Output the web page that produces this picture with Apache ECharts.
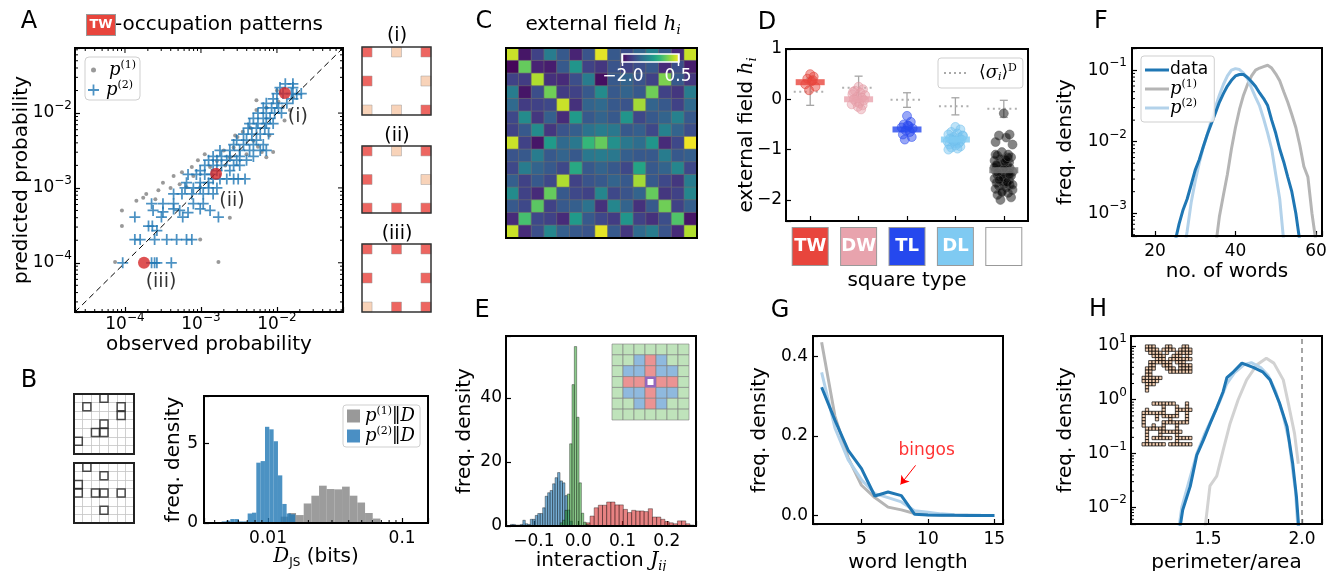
<!DOCTYPE html>
<html lang="en">
<head>
<meta charset="UTF-8" />
<title>Scrabble board statistics</title>
<script src="https://cdn.jsdelivr.net/npm/echarts@6/dist/echarts.min.js"></script>
<style>html,body{margin:0;padding:0;background:#fff}</style>
</head>
<body>
<div id="main" style="width:1343px;height:571px"></div>
<script>
// ---------- A: TW occupation patterns, [log10 observed, log10 predicted] ----------
const aP1Log = [[-4.13,-3.99],[-4.04,-3.3],[-4.04,-3.51],[-3.85,-3.17],[-3.76,-3.13],[-3.72,-3.08],[-3.56,-3.03],
  [-3.5,-2.93],[-3.36,-2.84],[-3.25,-2.79],[-3.12,-2.72],[-3.04,-2.63],[-2.77,-3.99],[-3.01,-3.69],[-2.62,-3.4],
  [-2.57,-2.46],[-2.52,-2.32],[-2.4,-2.55],[-2.27,-1.96],[-2.2,-2.52],[-2.14,-2.59],[-2.05,-2.52],[-2.31,-2.37],
  [-2.55,-2.3],[-2.62,-2.59],[-2.79,-2.64],[-2.88,-2.72],[-2.27,-1.83],[-2.14,-1.93],[-1.92,-1.92],[-1.83,-1.96],
  [-1.79,-1.79],[-1.98,-1.85],[-3.01,-2.99],[-3.19,-2.99],[-3.28,-2.95],[-3.1,-2.84],[-2.7,-2.5],[-2.45,-2.25],
  [-2.35,-2.2],[-2.0,-1.7],[-1.9,-2.1],[-2.1,-2.3],[-2.95,-2.55],[-3.4,-3.0],[-3.6,-3.15],[-2.68,-2.7],[-2.25,-2.45]];
const aP2Log = [[-4.03,-4.0],[-3.65,-4.0],[-3.61,-4.0],[-3.58,-4.0],[-3.39,-4.0],
  [-3.87,-3.69],[-3.8,-3.69],[-3.61,-3.69],[-3.45,-3.69],[-3.32,-3.69],[-3.19,-3.69],[-3.12,-3.69],
  [-3.69,-3.51],[-3.64,-3.51],[-3.58,-3.57],
  [-3.87,-3.39],[-3.52,-3.39],[-3.24,-3.39],[-2.77,-3.39],
  [-3.63,-3.3],[-3.5,-3.32],[-3.36,-3.28],[-3.28,-3.3],[-3.17,-3.33],[-3.01,-3.28],[-2.88,-3.3],
  [-3.65,-3.21],[-3.5,-3.21],[-3.36,-3.21],[-3.1,-3.21],[-2.97,-3.21],
  [-3.36,-3.08],[-3.25,-3.08],[-3.12,-3.08],[-2.97,-3.08],[-2.84,-3.08],
  [-3.21,-3.0],[-3.1,-3.0],[-3.01,-3.0],[-2.9,-3.0],[-2.79,-3.0],
  [-3.19,-2.93],[-3.01,-2.93],[-2.9,-2.93],
  [-2.84,-2.88],[-2.75,-2.88],[-2.66,-2.88],[-2.57,-2.88],[-2.51,-2.88],[-2.42,-2.88],
  [-3.17,-2.82],[-3.06,-2.82],[-2.95,-2.82],[-2.86,-2.82],
  [-3.01,-2.77],[-2.79,-2.77],[-2.62,-2.77],
  [-2.95,-2.7],[-2.84,-2.7],[-2.73,-2.7],[-2.57,-2.7],[-2.49,-2.7],
  [-2.9,-2.63],[-2.79,-2.63],[-2.66,-2.63],[-2.53,-2.63],[-2.4,-2.63],
  [-2.84,-2.58],[-2.73,-2.58],[-2.62,-2.58],[-2.49,-2.58],[-2.31,-2.58],
  [-2.75,-2.5],[-2.62,-2.5],[-2.49,-2.5],[-2.36,-2.5],[-2.22,-2.5],[-2.14,-2.5],
  [-2.57,-2.42],[-2.44,-2.42],[-2.31,-2.42],[-2.18,-2.42],
  [-2.53,-2.36],[-2.4,-2.36],[-2.27,-2.36],
  [-2.44,-2.28],[-2.33,-2.28],[-2.22,-2.28],[-2.11,-2.28],
  [-2.38,-2.2],[-2.27,-2.2],[-2.16,-2.2],
  [-2.36,-2.14],[-2.25,-2.14],[-2.14,-2.14],[-2.05,-2.14],
  [-2.31,-2.07],[-2.18,-2.07],[-2.09,-2.07],
  [-2.25,-2.0],[-2.14,-2.0],[-2.03,-2.0],[-1.94,-2.0],
  [-2.18,-1.93],[-2.07,-1.93],[-1.98,-1.93],
  [-2.14,-1.87],[-2.0,-1.87],[-1.87,-1.87],
  [-2.05,-1.81],[-1.79,-1.81],
  [-2.0,-1.74],[-1.92,-1.74],[-1.81,-1.74],
  [-1.96,-1.66],[-1.79,-1.66],
  [-1.89,-1.61],[-1.79,-1.61],
  [-1.74,-1.75],[-1.68,-1.74]];
const aPicked = [[0.0127, 0.0186], [0.00158, 0.00155], [1.78e-4, 1.0e-4]];
const aPickedNames = ['(i)', '(ii)', '(iii)'];
// TW squares of the board (col,row) and whether each is occupied in patterns (i)-(iii)
const twSpots = [[0,0],[7,0],[14,0],[0,7],[14,7],[0,14],[7,14],[14,14]];
const twPatterns = [[1,0,1,1,0,0,0,1],[1,0,1,1,0,1,1,1],[1,1,1,1,1,0,1,1]];

// ---------- B ----------
const bBoardTop = [[3,0],[1,1],[5,1],[5,2],[3,3],[2,4],[3,4],[0,5]];
const bBoardBottom = [[1,0],[3,1],[0,2],[0,3],[2,3],[3,3],[5,3],[3,5]];
const bBlueStartLog = -2.3458, bBlueStepLog = 0.0323;
const bBlueHeights = [0.1,0.15,0.25,0.25,0.1,0.1,0.6,0.65,3.8,3.9,6.06,5.9,5.15,3.0,1.2,0.6,0.55];
const bGrayStartLog = -1.9055, bGrayStepLog = 0.0572;
const bGrayHeights = [0.4,0.63,0.5,1.23,1.72,2.35,2.14,2.12,2.29,1.72,1.29,0.63,0.28];

// ---------- C: external field per square ----------
const hField = [
  [0.3,-1.85,-1.5,-0.95,-1.3,-1.75,-1.35,0.4,-1.3,-1.4,-1.2,-0.9,-1.3,-1.7,0.3],
  [-1.95,-0.1,-1.75,-1.8,-1.3,-0.7,-1.5,-1.6,-1.35,-1.5,-1.4,-1.3,-1.7,-1.4,-1.8],
  [-1.5,-1.55,0.2,-1.65,-1.7,-1.4,-0.95,-1.9,-1.3,-1.2,-1.35,-1.5,0.0,-1.3,-1.6],
  [-0.95,-1.85,-1.4,-0.05,-1.55,-1.5,-1.3,-0.8,-1.3,-1.2,-1.3,-0.05,-1.5,-1.6,-0.95],
  [-1.15,-1.55,-1.5,-1.45,0.3,-1.65,-1.2,-1.15,-1.3,-1.35,0.15,-1.2,-1.3,-1.5,-1.15],
  [-1.45,-0.8,-1.6,-1.25,-1.7,-0.65,-1.3,-1.2,-1.3,-0.7,-1.45,-1.3,-1.2,-0.9,-1.3],
  [-1.5,-1.3,-0.8,-1.6,-1.35,-1.25,-1.05,-0.95,-1.0,-1.3,-1.25,-1.45,-0.9,-1.2,-1.4],
  [0.3,-1.5,-1.85,-0.65,-1.15,-1.0,-0.35,-0.1,-0.75,-1.0,-1.1,-0.7,-1.7,-1.45,0.45],
  [-1.35,-1.3,-0.95,-1.3,-1.2,-1.3,-1.0,-0.95,-1.0,-1.25,-1.3,-1.3,-0.95,-1.3,-1.25],
  [-1.45,-0.95,-1.2,-1.3,-1.45,-0.5,-1.3,-1.2,-1.3,-1.45,-0.55,-1.3,-1.2,-0.85,-1.45],
  [-1.25,-1.5,-1.3,-1.45,0.2,-1.5,-1.35,-1.3,-1.2,-1.3,0.15,-1.3,-1.45,-1.6,-0.95],
  [-0.8,-1.5,-1.7,-0.1,-1.3,-1.45,-1.5,-0.85,-1.45,-1.35,-1.2,-0.1,-1.6,-1.5,-0.85],
  [-1.3,-1.45,-0.15,-1.5,-1.3,-1.25,-1.05,-1.65,-0.85,-1.2,-1.65,-1.3,-0.05,-1.5,-1.25],
  [-1.7,-0.25,-1.45,-1.5,-1.7,-0.65,-1.3,-1.45,-1.55,-0.7,-1.5,-1.65,-1.4,-0.2,-1.85],
  [0.3,-1.7,-1.4,-0.85,-1.25,-1.3,-1.35,0.4,-1.3,-1.6,-1.15,-0.95,-1.35,-1.7,0.2]];

// ---------- D: fields by square type ----------
const dTypes = ['TW', 'DW', 'TL', 'DL', ' '];
const dPoints = [
  [0.5,0.45,0.41,0.36,0.3,0.25,0.18,0.38],
  [0.25,0.2,0.17,0.13,0.1,0.08,0.05,0.03,0.0,-0.02,-0.05,-0.08,-0.1,-0.12,-0.15,-0.2,0.15],
  [-0.33,-0.45,-0.5,-0.53,-0.56,-0.58,-0.62,-0.65,-0.7,-0.75,-0.8,-0.52],
  [-0.55,-0.6,-0.65,-0.68,-0.7,-0.72,-0.75,-0.77,-0.78,-0.8,-0.81,-0.82,-0.84,-0.85,-0.87,-0.88,-0.9,-0.92,-0.94,-0.96,-0.98,-1.0,-0.73,-0.83],
  [-0.28,-0.7,-0.72,-0.76,-0.85,-0.9,-1.05,-1.1,-1.12,-1.15,-1.18,-1.2,-1.22,-1.25,-1.27,-1.3,-1.32,-1.34,-1.36,-1.38,
   -1.4,-1.42,-1.44,-1.46,-1.48,-1.5,-1.52,-1.54,-1.56,-1.58,-1.6,-1.62,-1.64,-1.66,-1.68,-1.7,-1.72,-1.75,-1.78,-1.8,
   -1.83,-1.86,-1.9,-1.95,-2.0,-1.25,-1.35,-1.45,-1.55,-1.65,-1.3,-1.4,-1.5,-1.6,-1.2,-1.1,-1.7,-1.85,-1.15,-1.45]];
const dMeans = [0.34, 0.0, -0.6, -0.8, -1.41];
const dSigma = [0.15, 0.23, -0.01, -0.14, -0.19];
const dSigmaLo = [-0.12, 0.0, -0.16, -0.31, -0.36];
const dSigmaHi = [0.42, 0.46, 0.13, 0.03, -0.02];

// ---------- E: couplings histograms (bin start, bin width, heights) ----------
const eBlueStart = -0.153, eBlueStep = 0.0056;
const eBlueHeights = [0.5,0.5,0.3,0.3,0.5,1.8,0.7,0.5,2.1,2.1,3.3,3.9,3.9,5.7,9.3,10.4,11.1,13.2,15.1,16.7,14.1,13.5,9.5,5.0,1.5];
const eGreenStart = -0.0405, eGreenStep = 0.0053;
const eGreenHeights = [1.0,1.8,4.9,10,25.7,44.2,56.1,34,13.5,4,1.2,0.5];
const eRedStart = 0.0173, eRedStep = 0.0094;
const eRedHeights = [1.0,3.1,5.7,6.5,6.5,7.5,7.5,6.6,6.6,5.2,4.2,4.9,4.7,4.7,4.5,5.4,2.8,2.8,2.1,1.4,1.0,0.7,1.6,1.6,0.7,0.3];
const eNeighbourhood = ['GGGGGGG','GGBRBGG','GBBRBBG','GRRCRRG','GBBRBBG','GGBRBGG','GGGGGGG'];

// ---------- F: number of words ----------
const fWordsData = [25,26,27,28,29,30,31,32,33,34,35,36,37,38,39,40,41,42,43,44,45,46,47,48,49,50,51,52,53,54,55,56];
const fData = [4.0e-4,7.1e-4,1.12e-3,1.58e-3,2.5e-3,4.0e-3,5.6e-3,8.5e-3,0.0126,0.0178,0.025,0.0355,0.047,0.060,0.072,0.083,
  0.087,0.087,0.079,0.069,0.059,0.048,0.040,0.032,0.020,0.0132,0.0079,0.0052,0.0032,0.002,0.001,4e-4];
const fWordsP2 = [27,28,29,30,31,32,33,34,35,36,37,38,39,40,41,42,43,44,45,46,47,48,49,50,51,52];
const fP2 = [2.5e-4,5.6e-4,1.41e-3,2.8e-3,5.0e-3,8.3e-3,0.0126,0.02,0.030,0.0447,0.063,0.083,0.1,0.105,0.102,0.091,
  0.076,0.056,0.0417,0.0316,0.0209,0.0132,7.9e-3,3.5e-3,1.58e-3,4.0e-4];
const fWordsP1 = [35,36,37,38,39,40,41,42,43,44,45,46,47,48,49,50,51,52,53,54,55,56,57,58,59,60];
const fP1 = [3.2e-4,8.9e-4,1.78e-3,3.5e-3,7.9e-3,0.0158,0.0282,0.0447,0.063,0.083,0.1,0.107,0.112,0.117,0.107,0.089,
  0.071,0.05,0.0355,0.024,0.0158,8.9e-3,4.5e-3,3.2e-3,1.0e-3,4.0e-4];

// ---------- G: word length ----------
const gLength = [2,3,4,5,6,7,8,9,10,11,12,13,14,15];
const gP1 = [0.436,0.25,0.145,0.076,0.045,0.021,0.014,0.005,0.002,0.001,0.0005,0.0003,0.0001,0];
const gP2 = [0.36,0.22,0.14,0.09,0.055,0.045,0.034,0.012,0.008,0.004,0.002,0.001,0.0005,0.0002];
const gData = [0.3225,0.24,0.164,0.118,0.049,0.059,0.05,0.003,0.001,0.0005,0.0003,0.0002,0.0001,0.0001];

// ---------- H: perimeter / area ----------
const hData = [[1.345,0.00316],[1.365,0.00891],[1.405,0.0245],[1.44,0.0933],[1.475,0.178],[1.51,0.355],[1.546,0.708],
  [1.58,1.41],[1.6,2.57],[1.635,3.31],[1.68,4.79],[1.74,3.98],[1.79,3.31],[1.83,2.34],[1.88,0.871],[1.92,0.316],
  [1.95,0.0661],[1.97,0.0158],[1.985,0.00316]];
const hP2 = [[1.34,0.00316],[1.36,0.01],[1.4,0.0316],[1.44,0.1],[1.48,0.224],[1.52,0.447],[1.56,0.891],[1.6,2.0],
  [1.64,3.16],[1.69,4.47],[1.73,4.9],[1.78,3.98],[1.82,2.82],[1.86,1.41],[1.9,0.501],[1.93,0.178],[1.95,0.0501],
  [1.965,0.02],[1.98,0.00316]];
const hP1 = [[1.48,0.00316],[1.51,0.0251],[1.546,0.038],[1.58,0.115],[1.617,0.363],[1.66,1.0],[1.705,2.34],[1.76,4.47],
  [1.81,5.89],[1.85,4.79],[1.9,2.34],[1.93,0.759],[1.96,0.234],[1.98,0.0646]];
const hClusterTop = ['.###...##...##.','.####.####.####','..####.#..#####','...####..###.#.','....###.#######',
  '..#######.###..','..##..###..####','.###...###.####','.##.....#######','.##............','######.........',
  '#####..........','.###...........','.#.............','.#.............'];
const hClusterBottom = ['...#######...#.','......#...#..#.','.#....#...#####','#######...#..#.','#...#.#####..#.',
  '#...#...#....#.','#.....########.','#..#..#...#....','.######...#....','.#...#######...','.#...#....#....',
  '.#.######.#####','.#........#....','#######.#######','...............'];

// ================= chart building =================
const FONT = 'DejaVu Sans';
const SERIF = 'DejaVu Serif';
const VIRIDIS = ['#440154','#482878','#3e4989','#31688e','#26828e','#1f9e89','#35b779','#6ece58','#b5de2b','#fde725'];
const BLUE = '#1f77b4', LIGHTBLUE = '#b3d2ea', GRAY = '#b5b5b5';

function merge(a, b) {
  const out = Object.assign({}, a);
  for (const k in b) {
    const v = b[k];
    if (v && typeof v === 'object' && !Array.isArray(v) && a && a[k] && typeof a[k] === 'object' && !Array.isArray(a[k])) {
      out[k] = merge(a[k], v);
    } else {
      out[k] = v;
    }
  }
  return out;
}

const NAME_RICH = {
  it: { fontFamily: SERIF, fontStyle: 'italic', fontSize: 20, lineHeight: 24, color: '#000' },
  sub: { fontFamily: SERIF, fontStyle: 'italic', fontSize: 13, lineHeight: 14, verticalAlign: 'bottom', color: '#000' },
  subr: { fontFamily: FONT, fontSize: 12, lineHeight: 14, verticalAlign: 'bottom', color: '#000' }
};
const SUP_RICH = { sup: { fontFamily: FONT, fontSize: 12, lineHeight: 12, verticalAlign: 'top', color: '#000' } };

const BASE_AXIS = {
  nameLocation: 'middle',
  nameMoveOverlap: false,
  nameTextStyle: { color: '#000', fontSize: 20, fontFamily: FONT, lineHeight: 24, rich: NAME_RICH },
  axisLine: { show: false, onZero: false },
  axisTick: { show: true, inside: true, length: 5, lineStyle: { color: '#000', width: 1.2 } },
  axisLabel: { color: '#000', fontSize: 17, fontFamily: FONT, margin: 6 },
  splitLine: { show: false },
  minorTick: { show: false }
};

const option = {
  animation: false,
  backgroundColor: '#fff',
  textStyle: { fontFamily: FONT },
  grid: [], xAxis: [], yAxis: [], series: [], legend: [], visualMap: [],
  graphic: { elements: [] }
};

function addGrid(r, frame) {
  option.grid.push({
    left: r[0], top: r[1], width: r[2], height: r[3], z: 10,
    outerBoundsMode: 'none',
    show: !!frame, borderColor: frame ? frame[0] : 'transparent', borderWidth: frame ? frame[1] : 0,
    backgroundColor: 'transparent'
  });
  return option.grid.length - 1;
}
function addX(cfg) { option.xAxis.push(cfg); return option.xAxis.length - 1; }
function addY(cfg) { option.yAxis.push(cfg); return option.yAxis.length - 1; }
function axis(gi, extra) { return merge(merge(BASE_AXIS, { gridIndex: gi }), extra); }
function hidden(gi, min, max, inverse) { return { gridIndex: gi, type: 'value', show: false, min: min, max: max, inverse: !!inverse }; }

const logFmt = function (v) {
  const e = Math.log10(v), r = Math.round(e);
  if (Math.abs(e - r) > 1e-6) return '';
  return '10{sup|' + (r < 0 ? '\u2212' : '') + Math.abs(r) + '}';
};
const decFmt = function (v) {
  const e = Math.log10(v), r = Math.round(e);
  if (Math.abs(e - r) > 1e-6) return '';
  return String(+Math.pow(10, r).toPrecision(1));
};
function stepFmt(step, dec) {
  return function (v) {
    const q = v / step;
    if (Math.abs(q - Math.round(q)) > 1e-6) return '';
    return (Math.round(q) * step).toFixed(dec).replace('-', '\u2212');
  };
}
// minor ticks (2..9 x 10^k) on a log axis, drawn at an edge of the plot through the axis scale
function logMinor(lo, hi) {
  const out = [];
  for (let k = Math.floor(Math.log10(lo)); k <= Math.ceil(Math.log10(hi)); k++) {
    for (let m = 2; m <= 9; m++) { const v = m * Math.pow(10, k); if (v > lo && v < hi) out.push(v); }
  }
  return out;
}
// ticks along one plot edge; len > 0 points into the plot from bottom/left, len < 0 from top/right
function edgeTicks(xi, yi, dir, values, other, len) {
  option.series.push({ type: 'custom', xAxisIndex: xi, yAxisIndex: yi, silent: true, z: 11,
    encode: { x: 0, y: 1 },
    data: values.map(function (v) { return dir === 'x' ? [v, other] : [other, v]; }),
    renderItem: function (params, api) {
      const p = api.coord([api.value(0), api.value(1)]);
      const shape = dir === 'x' ? { x1: p[0], y1: p[1], x2: p[0], y2: p[1] - len } : { x1: p[0], y1: p[1], x2: p[0] + len, y2: p[1] };
      return { type: 'line', shape: shape, style: { stroke: '#000', lineWidth: 1 } };
    } });
}

const FRAME = ['#000', 2];

// ---------- A ----------
const PLUS = 'path://M0,4.2H10V5.8H0Z M4.2,0H5.8V10H4.2Z';
const A_MIN = 2.2e-5, A_MAX = 0.074;
const A_MAJOR = [1e-4, 1e-3, 1e-2];
const gA = addGrid([75, 48, 268, 264], FRAME);
const xA = addX(axis(gA, { type: 'log', min: A_MIN, max: A_MAX, name: 'observed probability', nameGap: 21,
  axisLabel: { formatter: logFmt, margin: 0, lineHeight: 26, rich: SUP_RICH } }));
const yA = addY(axis(gA, { type: 'log', min: A_MIN, max: A_MAX, name: 'predicted probability', nameGap: 41,
  axisLabel: { formatter: logFmt, margin: 3, lineHeight: 26, rich: SUP_RICH } }));
const toVal = function (p) { return [Math.pow(10, p[0]), Math.pow(10, p[1])]; };
option.series.push({ name: 'A_p1', type: 'scatter', xAxisIndex: xA, yAxisIndex: yA, symbol: 'circle', symbolSize: 4,
  itemStyle: { color: '#7f7f7f' }, data: aP1Log.map(toVal) });
option.series.push({ name: 'A_p2', type: 'scatter', xAxisIndex: xA, yAxisIndex: yA, symbol: PLUS, symbolSize: 11,
  itemStyle: { color: BLUE }, data: aP2Log.map(toVal) });
option.series.push({ name: 'A_diag', type: 'line', xAxisIndex: xA, yAxisIndex: yA, symbol: 'none',
  lineStyle: { color: '#000', width: 1, type: [6, 4] }, data: [[A_MIN, A_MIN], [A_MAX, A_MAX]] });
const aLabelOffsets = [[13, 24], [16, 27], [17, 19]];
option.series.push({ name: 'A_sel', type: 'scatter', xAxisIndex: xA, yAxisIndex: yA, symbolSize: 12, z: 5,
  itemStyle: { color: '#d62728' },
  label: { show: true, position: 'inside', color: '#000', fontSize: 19, fontFamily: FONT,
    formatter: function (p) { return aPickedNames[p.dataIndex]; } },
  data: aPicked.map(function (v, i) { return { value: v, label: { offset: aLabelOffsets[i] } }; }) });
edgeTicks(xA, yA, 'x', logMinor(A_MIN, A_MAX), A_MIN, 3);
edgeTicks(xA, yA, 'y', logMinor(A_MIN, A_MAX), A_MIN, 3);
edgeTicks(xA, yA, 'x', logMinor(A_MIN, A_MAX), A_MAX, -3);
edgeTicks(xA, yA, 'y', logMinor(A_MIN, A_MAX), A_MAX, -3);
edgeTicks(xA, yA, 'x', A_MAJOR, A_MAX, -5);
edgeTicks(xA, yA, 'y', A_MAJOR, A_MAX, -5);

// board insets (i)-(iii)
const boardRects = [[362, 47, 69, 68], [362, 146, 69, 67], [362, 244, 69, 68]];
boardRects.forEach(function (r, k) {
  const g = addGrid(r, ['#333', 1.5]);
  const xi = addX(hidden(g, -1.2, 15.2));
  const yi = addY(hidden(g, -1.2, 15.2, true));
  option.series.push({ type: 'scatter', xAxisIndex: xi, yAxisIndex: yi, symbol: 'rect', symbolSize: 10,
    data: twSpots.map(function (s, j) {
      return { value: s, itemStyle: { color: twPatterns[k][j] ? '#e8403a' : '#f6c8a7', borderColor: '#999', borderWidth: 0.6 } };
    }) });
});

// ---------- B ----------
[[74, 394, 60, 60, bBoardTop], [74, 463, 60, 60, bBoardBottom]].forEach(function (b) {
  const g = addGrid(b.slice(0, 4), ['#222', 2]);
  const grid7 = { show: true, min: 0, max: 7, interval: 1, axisLabel: { show: false }, axisTick: { show: false },
    axisLine: { show: false }, splitLine: { show: true, lineStyle: { color: '#c4c4c4', width: 0.8 } } };
  const xi = addX(merge({ gridIndex: g, type: 'value' }, grid7));
  const yi = addY(merge({ gridIndex: g, type: 'value', inverse: true }, grid7));
  option.series.push({ type: 'scatter', xAxisIndex: xi, yAxisIndex: yi, symbol: 'rect', symbolSize: 8,
    itemStyle: { color: 'rgba(0,0,0,0)', borderColor: '#222', borderWidth: 1.5 },
    data: b[4].map(function (c) { return [c[0] + 0.5, c[1] + 0.5]; }) });
});
const B_MIN = 0.00333, B_MAX = 0.156;
const gB = addGrid([204, 396, 224, 127], FRAME);
const xB = addX(axis(gB, { type: 'log', min: B_MIN, max: B_MAX, name: '{it|D}{subr|JS} (bits)', nameGap: 22,
  axisLabel: { formatter: decFmt, margin: 7 } }));
const yB = addY(axis(gB, { type: 'value', min: 0, max: 8, interval: 5, name: 'freq. density', nameGap: 18,
  axisLabel: { margin: 6, formatter: stepFmt(5, 0) } }));
function histRender(fill, stroke) {
  return function (params, api) {
    const p0 = api.coord([api.value(0), api.value(2)]);
    const p1 = api.coord([api.value(1), 0]);
    return { type: 'rect', shape: { x: p0[0], y: p0[1], width: p1[0] - p0[0], height: p1[1] - p0[1] },
      style: { fill: fill, stroke: stroke, lineWidth: stroke ? 0.8 : 0 } };
  };
}
function logBins(startLog, stepLog, heights) {
  return heights.map(function (h, i) {
    return [Math.pow(10, startLog + i * stepLog), Math.pow(10, startLog + (i + 1) * stepLog), h];
  });
}
function linBins(start, step, heights) {
  return heights.map(function (h, i) { return [start + i * step, start + (i + 1) * step, h]; });
}
option.series.push({ name: 'B_p1', type: 'custom', xAxisIndex: xB, yAxisIndex: yB, clip: true,
  itemStyle: { color: '#999999' }, encode: { x: [0, 1], y: 2 },
  renderItem: histRender('rgba(128,128,128,0.78)', null), data: logBins(bGrayStartLog, bGrayStepLog, bGrayHeights) });
option.series.push({ name: 'B_p2', type: 'custom', xAxisIndex: xB, yAxisIndex: yB, clip: true,
  itemStyle: { color: '#4a8fc4' }, encode: { x: [0, 1], y: 2 },
  renderItem: histRender('rgba(31,119,180,0.8)', null), data: logBins(bBlueStartLog, bBlueStepLog, bBlueHeights) });
edgeTicks(xB, yB, 'x', logMinor(B_MIN, B_MAX), 0, 3);

// ---------- C ----------
const gC = addGrid([506, 48, 191, 190], FRAME);
const cats15 = hField.map(function (_, i) { return String(i); });
const xC = addX({ gridIndex: gC, type: 'category', data: cats15, show: false });
const yC = addY({ gridIndex: gC, type: 'category', data: cats15, show: false, inverse: true });
const heatData = [];
hField.forEach(function (row, r) { row.forEach(function (v, c) { heatData.push([c, r, v]); }); });
option.series.push({ name: 'C_h', type: 'heatmap', xAxisIndex: xC, yAxisIndex: yC, data: heatData,
  itemStyle: { borderColor: '#6b6b6b', borderWidth: 0.6 } });
option.visualMap.push({ type: 'continuous', show: false, seriesIndex: option.series.length - 1,
  min: -2, max: 0.5, inRange: { color: VIRIDIS } });

// ---------- D ----------
const gD = addGrid([786, 49, 242, 172], FRAME);
const badgeColors = ['#e8453c', '#e8a3ad', '#2548ee', '#7fcaf2', '#ffffff'];
const badgeRich = {};
badgeColors.forEach(function (c, i) {
  badgeRich['b' + i] = { backgroundColor: c, color: '#fff', fontWeight: 'bold', fontSize: 18, fontFamily: FONT,
    width: 35, height: 37, lineHeight: 37, align: 'center', borderColor: '#999', borderWidth: 1 };
});
addX(axis(gD, { type: 'category', data: dTypes, position: 'bottom', name: 'square type', nameGap: 48,
  axisTick: { alignWithLabel: true },
  axisLabel: { interval: 0, margin: 7, rich: badgeRich, formatter: function (v, i) { return '{b' + i + '|' + v + '}'; } } }));
const xD = addX({ gridIndex: gD, type: 'value', show: false, min: -0.5, max: 4.5, position: 'top' });
const yD = addY(axis(gD, { type: 'value', min: -2.42, max: 1.0, splitNumber: 4,
  name: 'external field {it|h}{sub|i}', nameGap: 27, axisLabel: { margin: 4, formatter: stepFmt(1, 0) } }));
option.series.push({ name: 'D_sigma', type: 'custom', xAxisIndex: xD, yAxisIndex: yD, itemStyle: { color: '#aaaaaa' },
  encode: { x: 0, y: [1, 2, 3] },
  data: dTypes.map(function (_, i) { return [i, dSigma[i], dSigmaLo[i], dSigmaHi[i]]; }),
  renderItem: function (params, api) {
    const c = api.value(0), s = api.value(1), lo = api.value(2), hi = api.value(3);
    const a = api.coord([c - 0.34, s]), b = api.coord([c + 0.34, s]);
    const t = api.coord([c, hi]), u = api.coord([c, lo]);
    const es = { stroke: '#a5a5a5', lineWidth: 1.3 };
    return { type: 'group', children: [
      { type: 'line', shape: { x1: t[0], y1: t[1], x2: u[0], y2: u[1] }, style: es },
      { type: 'line', shape: { x1: t[0] - 4, y1: t[1], x2: t[0] + 4, y2: t[1] }, style: es },
      { type: 'line', shape: { x1: u[0] - 4, y1: u[1], x2: u[0] + 4, y2: u[1] }, style: es },
      { type: 'line', shape: { x1: a[0], y1: a[1], x2: b[0], y2: b[1] }, style: { stroke: '#b0b0b0', lineWidth: 2, lineDash: [2, 3.5] } }
    ] };
  } });
const dPointFill = ['rgba(232,69,60,0.6)', 'rgba(232,160,172,0.6)', 'rgba(40,72,238,0.6)', 'rgba(120,196,240,0.6)', 'rgba(0,0,0,0.6)'];
const dPointEdge = ['rgba(220,60,50,0.8)', 'rgba(225,150,160,0.8)', 'rgba(40,72,238,0.8)', 'rgba(110,190,235,0.8)', 'rgba(90,90,90,0.8)'];
const jitterPattern = [0, 0.6, -0.5, 0.25, -0.85, 0.9, -0.2, 0.45, -0.65, 0.75, -0.35, 0.1, -0.95, 0.55, -0.1, 0.35, -0.75];
const jitterWidth = [0.12, 0.15, 0.13, 0.17, 0.2];
dPoints.forEach(function (ys, k) {
  option.series.push({ type: 'scatter', xAxisIndex: xD, yAxisIndex: yD, symbolSize: 9,
    itemStyle: { color: dPointFill[k], borderColor: dPointEdge[k], borderWidth: 0.8 },
    data: ys.map(function (y, i) { return [k + jitterWidth[k] * jitterPattern[i % jitterPattern.length], y]; }) });
});
const meanColors = ['#e8453c', '#e8a3ad', '#2548ee', '#7fcaf2', '#777777'];
option.series.push({ type: 'scatter', xAxisIndex: xD, yAxisIndex: yD, symbol: 'rect', symbolSize: [29, 6], z: 4,
  data: dMeans.map(function (m, i) { return { value: [i, m], itemStyle: { color: meanColors[i] } }; }) });

// ---------- E ----------
const gE = addGrid([506, 336, 190, 190], FRAME);
const xE = addX(axis(gE, { type: 'value', min: -0.163, max: 0.266, splitNumber: 4,
  name: 'interaction {it|J}{sub|ij}', nameGap: 23, axisLabel: { margin: 7, formatter: stepFmt(0.1, 1) } }));
const yE = addY(axis(gE, { type: 'value', min: 0, max: 59.4, interval: 20, name: 'freq. density', nameGap: 29,
  axisLabel: { margin: 4, formatter: stepFmt(20, 0) } }));
option.series.push({ type: 'custom', xAxisIndex: xE, yAxisIndex: yE, clip: true, encode: { x: [0, 1], y: 2 },
  renderItem: histRender('rgba(31,119,180,0.62)', 'rgba(0,0,0,0.45)'), data: linBins(eBlueStart, eBlueStep, eBlueHeights) });
option.series.push({ type: 'custom', xAxisIndex: xE, yAxisIndex: yE, clip: true, encode: { x: [0, 1], y: 2 },
  renderItem: histRender('rgba(214,39,40,0.58)', 'rgba(0,0,0,0.45)'), data: linBins(eRedStart, eRedStep, eRedHeights) });
option.series.push({ type: 'custom', xAxisIndex: xE, yAxisIndex: yE, clip: true, encode: { x: [0, 1], y: 2 },
  renderItem: histRender('rgba(44,160,44,0.55)', 'rgba(0,0,0,0.45)'), data: linBins(eGreenStart, eGreenStep, eGreenHeights) });
// neighbourhood inset
const gEin = addGrid([612, 344, 77, 76], null);
const xEin = addX(hidden(gEin, 0, 7));
const yEin = addY(hidden(gEin, 0, 7, true));
const kindIndex = { G: 0, B: 1, R: 2, C: 3 };
const kindFill = ['#bfe3bb', '#8fb9de', '#eb9393', '#ffffff'];
const einData = [];
eNeighbourhood.forEach(function (row, r) { row.split('').forEach(function (ch, c) { einData.push([c, r, kindIndex[ch]]); }); });
option.series.push({ type: 'custom', xAxisIndex: xEin, yAxisIndex: yEin, z: 6, encode: { x: 0, y: 1 }, data: einData,
  renderItem: function (params, api) {
    const c = api.value(0), r = api.value(1), k = api.value(2);
    const p0 = api.coord([c, r]), p1 = api.coord([c + 1, r + 1]);
    const center = k === 3;
    return { type: 'rect', z2: center ? 10 : 1,
      shape: { x: Math.min(p0[0], p1[0]) + (center ? 1.2 : 0), y: Math.min(p0[1], p1[1]) + (center ? 1.2 : 0),
        width: Math.abs(p1[0] - p0[0]) - (center ? 2.4 : 0), height: Math.abs(p1[1] - p0[1]) - (center ? 2.4 : 0) },
      style: { fill: kindFill[k], stroke: center ? '#9467bd' : '#7d7d7d', lineWidth: center ? 2.6 : 0.6 } };
  } });

// ---------- F ----------
const F_MIN = 4.8e-4, F_MAX = 0.204;
const gF = addGrid([1132, 48, 190, 188], FRAME);
const xF = addX(axis(gF, { type: 'value', min: 14.3, max: 61.5, splitNumber: 2, name: 'no. of words', nameGap: 24,
  axisLabel: { margin: 7, formatter: stepFmt(20, 0) } }));
const yF = addY(axis(gF, { type: 'log', min: F_MIN, max: F_MAX, name: 'freq. density', nameGap: 54,
  axisLabel: { formatter: logFmt, margin: 5, lineHeight: 26, rich: SUP_RICH } }));
function lineSeries(name, xi, yi, data, color, width) {
  return { name: name, type: 'line', xAxisIndex: xi, yAxisIndex: yi, symbol: 'none', showSymbol: false, clip: true,
    itemStyle: { color: color }, lineStyle: { color: color, width: width || 3 }, data: data };
}
function zip(xs, ys) { return xs.map(function (x, i) { return [x, ys[i]]; }); }
option.series.push(lineSeries('F_p1', xF, yF, zip(fWordsP1, fP1), GRAY));
option.series.push(lineSeries('F_p2', xF, yF, zip(fWordsP2, fP2), LIGHTBLUE));
option.series.push(lineSeries('F_data', xF, yF, zip(fWordsData, fData), BLUE));
edgeTicks(xF, yF, 'y', logMinor(F_MIN, F_MAX), 14.3, 3);

// ---------- G ----------
const gG = addGrid([813, 336, 190, 188], FRAME);
const xG = addX(axis(gG, { type: 'value', min: 1.35, max: 15.65, splitNumber: 3, name: 'word length', nameGap: 27,
  axisLabel: { margin: 7, formatter: stepFmt(5, 0) } }));
const yG = addY(axis(gG, { type: 'value', min: -0.0215, max: 0.4515, splitNumber: 3, name: 'freq. density', nameGap: 41,
  axisLabel: { margin: 5, formatter: stepFmt(0.2, 1) } }));
option.series.push(lineSeries('G_p1', xG, yG, zip(gLength, gP1), GRAY));
option.series.push(lineSeries('G_p2', xG, yG, zip(gLength, gP2), LIGHTBLUE));
const gDataSeries = lineSeries('G_data', xG, yG, zip(gLength, gData), BLUE);
gDataSeries.markLine = { silent: true, symbol: ['none', 'arrow'], symbolSize: 8, label: { show: false },
  lineStyle: { color: '#ff0000', width: 1, type: 'solid' },
  data: [[{ coord: [9.07, 0.126] }, { coord: [7.94, 0.078] }]] };
option.series.push(gDataSeries);
option.series.push({ type: 'scatter', xAxisIndex: xG, yAxisIndex: yG, symbolSize: 1, itemStyle: { color: 'rgba(0,0,0,0)' },
  label: { show: true, position: 'inside', formatter: 'bingos', color: '#ff0000', fontSize: 17, fontFamily: FONT },
  data: [[9.9, 0.164]] });

// ---------- H ----------
const H_MIN = 0.0049, H_MAX = 15.3;
const gH = addGrid([1131, 336, 191, 188], FRAME);
const xH = addX(axis(gH, { type: 'value', min: 1.09, max: 2.106, splitNumber: 2, name: 'perimeter/area', nameGap: 27,
  axisLabel: { margin: 7, formatter: stepFmt(0.5, 1) } }));
const yH = addY(axis(gH, { type: 'log', min: H_MIN, max: H_MAX, name: 'freq. density', nameGap: 53,
  axisLabel: { formatter: logFmt, margin: 4, lineHeight: 26, rich: SUP_RICH } }));
const hP1Series = lineSeries('H_p1', xH, yH, hP1, '#d2d2d2');
hP1Series.markLine = { silent: true, symbol: 'none', label: { show: false },
  lineStyle: { color: '#888', width: 1.5, type: [5, 4] }, data: [{ xAxis: 2.0 }] };
option.series.push(hP1Series);
option.series.push(lineSeries('H_p2', xH, yH, hP2, LIGHTBLUE));
option.series.push(lineSeries('H_data', xH, yH, hData, BLUE));
edgeTicks(xH, yH, 'y', logMinor(H_MIN, H_MAX), 1.09, 3);
[[1142, 345, 50, 47, hClusterTop], [1142, 402, 50, 47, hClusterBottom]].forEach(function (b) {
  const g = addGrid(b.slice(0, 4), null);
  const xi = addX(hidden(g, -0.5, 14.5));
  const yi = addY(hidden(g, -0.5, 14.5, true));
  const cells = [];
  b[4].forEach(function (row, r) { row.split('').forEach(function (ch, c) { if (ch === '#') cells.push([c, r]); }); });
  option.series.push({ type: 'scatter', xAxisIndex: xi, yAxisIndex: yi, symbol: 'rect', symbolSize: 3.3, z: 6,
    itemStyle: { color: '#f3c4a0', borderColor: '#000', borderWidth: 0.9 }, data: cells });
});

// ---------- legends ----------
const LEG_RICH = {
  it: { fontFamily: SERIF, fontStyle: 'italic', fontSize: 18, lineHeight: 20, color: '#000' },
  sup: { fontFamily: SERIF, fontSize: 11, lineHeight: 10, verticalAlign: 'top', color: '#000' },
  sub: { fontFamily: SERIF, fontStyle: 'italic', fontSize: 11, lineHeight: 10, verticalAlign: 'bottom', color: '#000' }
};
const legendText = {
  A_p1: '{it|p}{sup|(1)}', A_p2: '{it|p}{sup|(2)}',
  B_p1: '{it|p}{sup|(1)}\u2016{it|D}', B_p2: '{it|p}{sup|(2)}\u2016{it|D}',
  D_sigma: '\u27e8{it|\u03c3}{sub|i}\u27e9{sup|D}',
  F_data: 'data', F_p1: '{it|p}{sup|(1)}', F_p2: '{it|p}{sup|(2)}'
};
function legend(cfg) {
  return merge({ selectedMode: false, orient: 'vertical', padding: 0, itemGap: 0,
    textStyle: { color: '#000', fontSize: 17, fontFamily: FONT, lineHeight: 20, rich: LEG_RICH },
    formatter: function (n) { return legendText[n]; } }, cfg);
}
option.legend.push(legend({ data: [{ name: 'A_p1', icon: 'circle' }], left: 91, top: 60, itemWidth: 5, itemHeight: 5,
  textStyle: { padding: [0, 0, 0, 8] } }));
option.legend.push(legend({ data: [{ name: 'A_p2', icon: PLUS }], left: 88, top: 80, itemWidth: 11, itemHeight: 11,
  textStyle: { padding: [0, 0, 0, 2] } }));
option.legend.push(legend({ data: [{ name: 'B_p1', icon: 'rect' }, { name: 'B_p2', icon: 'rect' }], left: 343, top: 405,
  itemWidth: 13, itemHeight: 13, padding: [1, 5, 1, 4], itemGap: 0, borderColor: '#cfcfcf', borderWidth: 1,
  borderRadius: 3, backgroundColor: '#fff' }));
option.legend.push(legend({ data: [{ name: 'D_sigma', icon: 'path://M0,0h2v2h-2z M5,0h2v2h-2z M10,0h2v2h-2z M15,0h2v2h-2z M20,0h2v2h-2z' }],
  left: 938, top: 58, itemWidth: 22, itemHeight: 2, padding: [5, 6, 5, 6], borderColor: '#cfcfcf', borderWidth: 1,
  borderRadius: 3, backgroundColor: '#fff', textStyle: { padding: [0, 0, 0, 8] } }));
option.legend.push(legend({ data: [{ name: 'F_data', icon: 'rect' }, { name: 'F_p1', icon: 'rect' }, { name: 'F_p2', icon: 'rect' }],
  left: 1141, top: 56, itemWidth: 24, itemHeight: 3, padding: [4, 6, 4, 4], itemGap: -1, borderColor: '#cfcfcf',
  borderWidth: 1, borderRadius: 3, backgroundColor: 'rgba(255,255,255,0.85)', textStyle: { padding: [0, 0, 0, -4] } }));

// ---------- free text and small decorations ----------
const G_RICH = {
  it: { fontFamily: SERIF, fontStyle: 'italic', fontSize: 20, lineHeight: 24, fill: '#000' },
  sub: { fontFamily: SERIF, fontStyle: 'italic', fontSize: 13, lineHeight: 14, verticalAlign: 'bottom', fill: '#000' },
  tw: { backgroundColor: '#e8453c', fill: '#fff', color: '#fff', fontWeight: 'bold', fontSize: 13, fontFamily: FONT,
    width: 28, height: 20, lineHeight: 20, align: 'center', borderColor: '#999', borderWidth: 1 }
};
function addText(x, y, text, size, extra) {
  option.graphic.elements.push({ type: 'text', x: x, y: y, z: 100,
    style: Object.assign({ text: text, fontSize: size, fontFamily: FONT, fill: '#000', lineHeight: 24,
      align: 'center', verticalAlign: 'middle', textAlign: 'center', textVerticalAlign: 'middle', rich: G_RICH }, extra || {}) });
}
[['A', 29, 22], ['B', 29, 381], ['C', 484, 22], ['D', 767, 23], ['E', 482, 311], ['F', 1101, 22], ['G', 780, 311], ['H', 1098, 310]]
  .forEach(function (l) { addText(l[1], l[2], l[0], 24); });
addText(87, 25, '{tw|TW}-occupation patterns', 20, { align: 'left', textAlign: 'left' });
addText(603, 25, 'external field {it|h}{sub|i}', 20);
addText(397, 36, '(i)', 19);
addText(397, 136, '(ii)', 19);
addText(397, 234, '(iii)', 19);
// colour bar inside panel C
option.graphic.elements.push({ type: 'rect', z: 100, shape: { x: 622, y: 54, width: 57, height: 8 },
  style: { fill: { type: 'linear', x: 0, y: 0, x2: 1, y2: 0,
    colorStops: VIRIDIS.map(function (c, i) { return { offset: i / (VIRIDIS.length - 1), color: c }; }) },
    stroke: '#fff', lineWidth: 1.5 } });
option.graphic.elements.push({ type: 'line', z: 100, shape: { x1: 622.5, y1: 54, x2: 622.5, y2: 66 }, style: { stroke: '#fff', lineWidth: 1.5 } });
option.graphic.elements.push({ type: 'line', z: 100, shape: { x1: 678.5, y1: 54, x2: 678.5, y2: 66 }, style: { stroke: '#fff', lineWidth: 1.5 } });
addText(623, 77, '\u22122.0', 17, { fill: '#fff' });
addText(678, 77, '0.5', 17, { fill: '#fff' });
// legend frame for panel A
option.graphic.elements.push({ type: 'rect', z: 3, shape: { x: 85, y: 57, width: 55, height: 43, r: 4 },
  style: { fill: 'rgba(255,255,255,0.85)', stroke: '#cfcfcf', lineWidth: 1 } });

const chart = echarts.init(document.getElementById('main'), null, { renderer: 'canvas' });
chart.setOption(option);
</script>
</body>
</html>
